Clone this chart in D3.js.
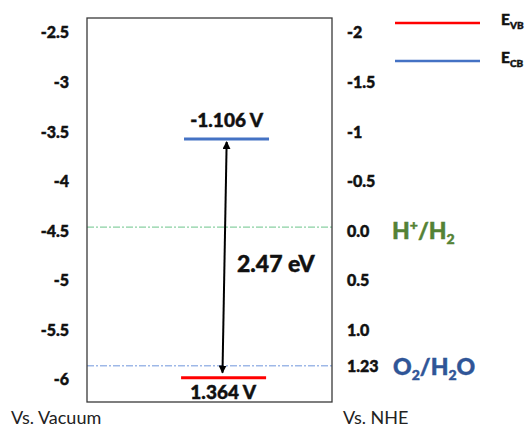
<!DOCTYPE html>
<html>
<head>
<meta charset="utf-8">
<script src="https://cdn.jsdelivr.net/npm/d3@7"></script>
<style>
  body { margin: 0; background: #fff; }
  svg { display: block; font-family: Lato, "Open Sans", sans-serif; }
  .heavy { stroke-width: 0.45px; paint-order: stroke; }
</style>
</head>
<body>
<svg id="chart" width="526" height="430"></svg>
<script>
// tick values on the two energy axes
var vacuumTicks = [-2.5, -3, -3.5, -4, -4.5, -5, -5.5, -6];
var nheTicks = [-2, -1.5, -1, -0.5, 0, 0.5, 1.0];
var nheTickLabels = ['-2', '-1.5', '-1', '-0.5', '0.0', '0.5', '1.0'];

// band edges (position on the vacuum scale, as drawn) and their labels
var bandKeys = ['VB', 'CB'];
var bandVacuum = [-5.98, -3.57];
var bandLabels = ['1.364 V', '-1.106 V'];
var bandGap = '2.47 eV';

// redox levels (position on the vacuum scale, as drawn)
var redoxKeys = ['H2', 'O2'];
var redoxVacuum = [-4.46, -5.86];
var redoxNheLabels = [null, '1.23'];

var BOX = { left: 87, right: 332, top: 18, bottom: 402 };
var COLORS = { VB: '#ff0000', CB: '#4472c4' };
var REDOX_LINE = { H2: '#6cc48a', O2: '#6f96dc' };
var REDOX_TEXT = { H2: '#548235', O2: '#2f5597' };
var HEAVY = 900;

var svg = d3.select('#chart');

// vacuum scale on the left, NHE scale on the right (NHE = -4.5 - Evac)
var y = d3.scaleLinear().domain([-2.35, -6.225]).range([BOX.top, BOX.bottom]);
var yNhe = d3.scaleLinear().domain([-4.5 + 2.35, -4.5 + 6.225]).range([BOX.top, BOX.bottom]);
var x = d3.scaleLinear().domain([0, 1]).range([BOX.left, BOX.right]);

// thick-looking bold text (Calibri bold in the original is heavier than Lato bold)
function heavy(sel, color) {
  return sel.attr('class', 'heavy').attr('font-weight', HEAVY)
    .attr('fill', color).attr('stroke', color);
}

// redox dashed lines
svg.selectAll('.redox').data(redoxKeys).enter().append('line')
  .attr('class', 'redox')
  .attr('x1', x(0)).attr('x2', x(1))
  .attr('y1', function (d, i) { return y(redoxVacuum[i]); })
  .attr('y2', function (d, i) { return y(redoxVacuum[i]); })
  .attr('stroke', function (d) { return REDOX_LINE[d]; })
  .attr('stroke-width', 1)
  .attr('stroke-dasharray', '7,2,2,2');

// frame
svg.append('rect')
  .attr('x', BOX.left).attr('y', BOX.top)
  .attr('width', BOX.right - BOX.left).attr('height', BOX.bottom - BOX.top)
  .attr('fill', 'none').attr('stroke', '#3a3a3a').attr('stroke-width', 1.3);

// left axis: labels only
var left = svg.append('g').attr('transform', 'translate(69,0)')
  .call(d3.axisLeft(y).tickValues(vacuumTicks).tickSize(0).tickPadding(0)
    .tickFormat(function (d) { return String(d); }));
left.select('.domain').remove();
left.attr('font-family', null).attr('font-size', null);
heavy(left.selectAll('text'), '#111').attr('font-size', 16).attr('dy', '0.32em');

// right axis: labels only
var right = svg.append('g').attr('transform', 'translate(347,0)')
  .call(d3.axisRight(yNhe).tickValues(nheTicks).tickSize(0).tickPadding(0)
    .tickFormat(function (d, i) { return nheTickLabels[i]; }));
right.select('.domain').remove();
right.attr('font-family', null).attr('font-size', null);
heavy(right.selectAll('text'), '#111').attr('font-size', 16).attr('dy', '0.32em');

// 1.23 label sits at the O2/H2O line
redoxKeys.forEach(function (k, i) {
  if (redoxNheLabels[i]) {
    heavy(svg.append('text'), '#111').attr('x', 347).attr('y', y(redoxVacuum[i]) + 1)
      .attr('dy', '0.32em').attr('font-size', 16)
      .text(redoxNheLabels[i]);
  }
});

// redox couple labels
var h2 = heavy(svg.append('text'), REDOX_TEXT.H2).attr('x', 392).attr('y', y(redoxVacuum[0]) + 12)
  .attr('font-size', 23);
h2.append('tspan').text('H');
h2.append('tspan').text('+').attr('font-size', 14).attr('dy', -9);
h2.append('tspan').text('/H').attr('dy', 9);
h2.append('tspan').text('2').attr('font-size', 14).attr('dy', 5);

var o2 = heavy(svg.append('text'), REDOX_TEXT.O2).attr('x', 393).attr('y', y(redoxVacuum[1]) + 9)
  .attr('font-size', 23);
o2.append('tspan').text('O');
o2.append('tspan').text('2').attr('font-size', 14).attr('dy', 5);
o2.append('tspan').text('/H').attr('dy', -5);
o2.append('tspan').text('2').attr('font-size', 14).attr('dy', 5);
o2.append('tspan').text('O').attr('dy', -5);

// band edge levels
svg.selectAll('.band').data(bandKeys).enter().append('line')
  .attr('class', 'band')
  .attr('x1', function (d) { return d === 'VB' ? x(0.384) : x(0.396); })
  .attr('x2', function (d) { return d === 'VB' ? x(0.731) : x(0.743); })
  .attr('y1', function (d, i) { return y(bandVacuum[i]); })
  .attr('y2', function (d, i) { return y(bandVacuum[i]); })
  .attr('stroke', function (d) { return COLORS[d]; })
  .attr('stroke-width', 3);

heavy(svg.selectAll('.bandLabel').data(bandKeys).enter().append('text'), '#111')
  .attr('x', function (d) { return d === 'VB' ? x(0.556) : x(0.57); })
  .attr('y', function (d, i) { return y(bandVacuum[i]) + (d === 'VB' ? 21 : -12); })
  .attr('text-anchor', 'middle')
  .attr('font-size', 19)
  .text(function (d, i) { return bandLabels[i]; });

// band gap arrow
var defs = svg.append('defs');
defs.append('marker').attr('id', 'head')
  .attr('viewBox', '0 0 10 10').attr('refX', 9).attr('refY', 5)
  .attr('markerWidth', 4).attr('markerHeight', 4).attr('orient', 'auto-start-reverse')
  .append('path').attr('d', 'M0,0L10,5L0,10z').attr('fill', '#000');

svg.append('line')
  .attr('x1', x(0.57)).attr('y1', y(bandVacuum[1]) + 3)
  .attr('x2', x(0.553)).attr('y2', y(bandVacuum[0]) - 5)
  .attr('stroke', '#000').attr('stroke-width', 2)
  .attr('marker-start', 'url(#head)').attr('marker-end', 'url(#head)');

heavy(svg.append('text'), '#111').attr('x', 237).attr('y', 272)
  .attr('font-size', 23)
  .text(bandGap);

// legend
var legend = svg.selectAll('.legend').data(['VB', 'CB']).enter().append('g')
  .attr('class', 'legend')
  .attr('transform', function (d, i) { return 'translate(395,' + (23 + i * 38) + ')'; });
legend.append('line').attr('x1', 0).attr('x2', 85)
  .attr('stroke', function (d) { return COLORS[d]; }).attr('stroke-width', 2.5);
var lt = heavy(legend.append('text'), '#111').attr('x', 106).attr('y', 2)
  .attr('font-size', 15.5);
lt.append('tspan').text('E');
lt.append('tspan').attr('font-size', 10).attr('dy', 4).text(function (d) { return d; });

// axis captions
svg.append('text').attr('x', 11).attr('y', 424).attr('font-size', 18).attr('fill', '#222').text('Vs. Vacuum');
svg.append('text').attr('x', 343).attr('y', 424).attr('font-size', 18).attr('fill', '#222').text('Vs. NHE');
</script>
</body>
</html>
